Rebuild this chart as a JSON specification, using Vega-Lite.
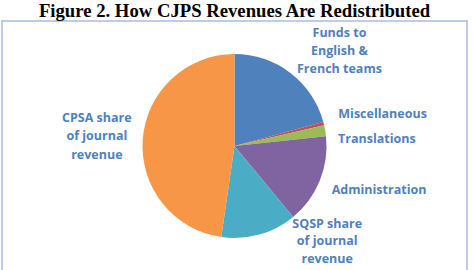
{
  "$schema": "https://vega.github.io/schema/vega-lite/v6.json",
  "width": 465,
  "height": 250,
  "autosize": "none",
  "padding": {"left": 2, "top": 21, "right": 6, "bottom": 0},
  "background": "white",
  "view": {"stroke": "#a9bce0", "strokeWidth": 1.5, "fill": "white"},
  "title": {
    "text": "Figure 2. How CJPS Revenues Are Redistributed",
    "font": "Liberation Serif",
    "fontSize": 18.7,
    "fontWeight": "bold",
    "color": "#000000",
    "anchor": "middle",
    "offset": 3,
    "dy": 12
  },
  "data": {
    "values": [
      {"cat": "Funds to English & French teams", "label": "Funds to|English &|French teams", "value": 20.8},
      {"cat": "Miscellaneous", "label": "Miscellaneous", "value": 0.6},
      {"cat": "Translations", "label": "Translations", "value": 1.9},
      {"cat": "Administration", "label": "Administration", "value": 15.7},
      {"cat": "SQSP share of journal revenue", "label": "SQSP share|of journal|revenue", "value": 13.3},
      {"cat": "CPSA share of journal revenue", "label": "CPSA share|of journal|revenue", "value": 47.7}
    ]
  },
  "transform": [{"window": [{"op": "row_number", "as": "order"}]}],
  "encoding": {
    "theta": {"field": "value", "type": "quantitative", "stack": true},
    "order": {"field": "order", "type": "quantitative", "sort": "ascending"}
  },
  "layer": [
    {
      "mark": {"type": "arc", "outerRadius": 92},
      "encoding": {
        "color": {
          "field": "cat",
          "type": "nominal",
          "legend": null,
          "scale": {
            "domain": ["Funds to English & French teams", "Miscellaneous", "Translations", "Administration", "SQSP share of journal revenue", "CPSA share of journal revenue"],
            "range": ["#4F81BD", "#C0504D", "#9BBB59", "#8064A2", "#4BACC6", "#F79646"]
          }
        }
      }
    },
    {
      "mark": {"type": "text", "radius": 120, "dx": 32, "dy": -18, "align": "center", "baseline": "middle", "font": "Open Sans", "fontWeight": "bold", "fontSize": 12.5, "color": "#4F81BD", "lineBreak": "|", "lineHeight": 18},
      "encoding": {"text": {"condition": {"test": "datum.cat === 'Funds to English & French teams'", "field": "label"}, "value": ""}}
    },
    {
      "mark": {"type": "text", "radius": 107, "dx": 0, "dy": -6, "align": "left", "baseline": "middle", "font": "Open Sans", "fontWeight": "bold", "fontSize": 12.5, "color": "#4F81BD", "lineBreak": "|", "lineHeight": 18},
      "encoding": {"text": {"condition": {"test": "datum.cat === 'Miscellaneous'", "field": "label"}, "value": ""}}
    },
    {
      "mark": {"type": "text", "radius": 105, "dx": 0, "dy": 10, "align": "left", "baseline": "middle", "font": "Open Sans", "fontWeight": "bold", "fontSize": 12.5, "color": "#4F81BD", "lineBreak": "|", "lineHeight": 18},
      "encoding": {"text": {"condition": {"test": "datum.cat === 'Translations'", "field": "label"}, "value": ""}}
    },
    {
      "mark": {"type": "text", "radius": 106, "dx": -1, "dy": 4, "align": "left", "baseline": "middle", "font": "Open Sans", "fontWeight": "bold", "fontSize": 12.5, "color": "#4F81BD", "lineBreak": "|", "lineHeight": 18},
      "encoding": {"text": {"condition": {"test": "datum.cat === 'Administration'", "field": "label"}, "value": ""}}
    },
    {
      "mark": {"type": "text", "radius": 99, "dx": 66, "dy": -17.5, "align": "center", "baseline": "middle", "font": "Open Sans", "fontWeight": "bold", "fontSize": 12.5, "color": "#4F81BD", "lineBreak": "|", "lineHeight": 17.5},
      "encoding": {"text": {"condition": {"test": "datum.cat === 'SQSP share of journal revenue'", "field": "label"}, "value": ""}}
    },
    {
      "mark": {"type": "text", "radius": 138, "dx": 0, "dy": -18.5, "align": "center", "baseline": "middle", "font": "Open Sans", "fontWeight": "bold", "fontSize": 12.5, "color": "#4F81BD", "lineBreak": "|", "lineHeight": 18.5},
      "encoding": {"text": {"condition": {"test": "datum.cat === 'CPSA share of journal revenue'", "field": "label"}, "value": ""}}
    }
  ]
}
